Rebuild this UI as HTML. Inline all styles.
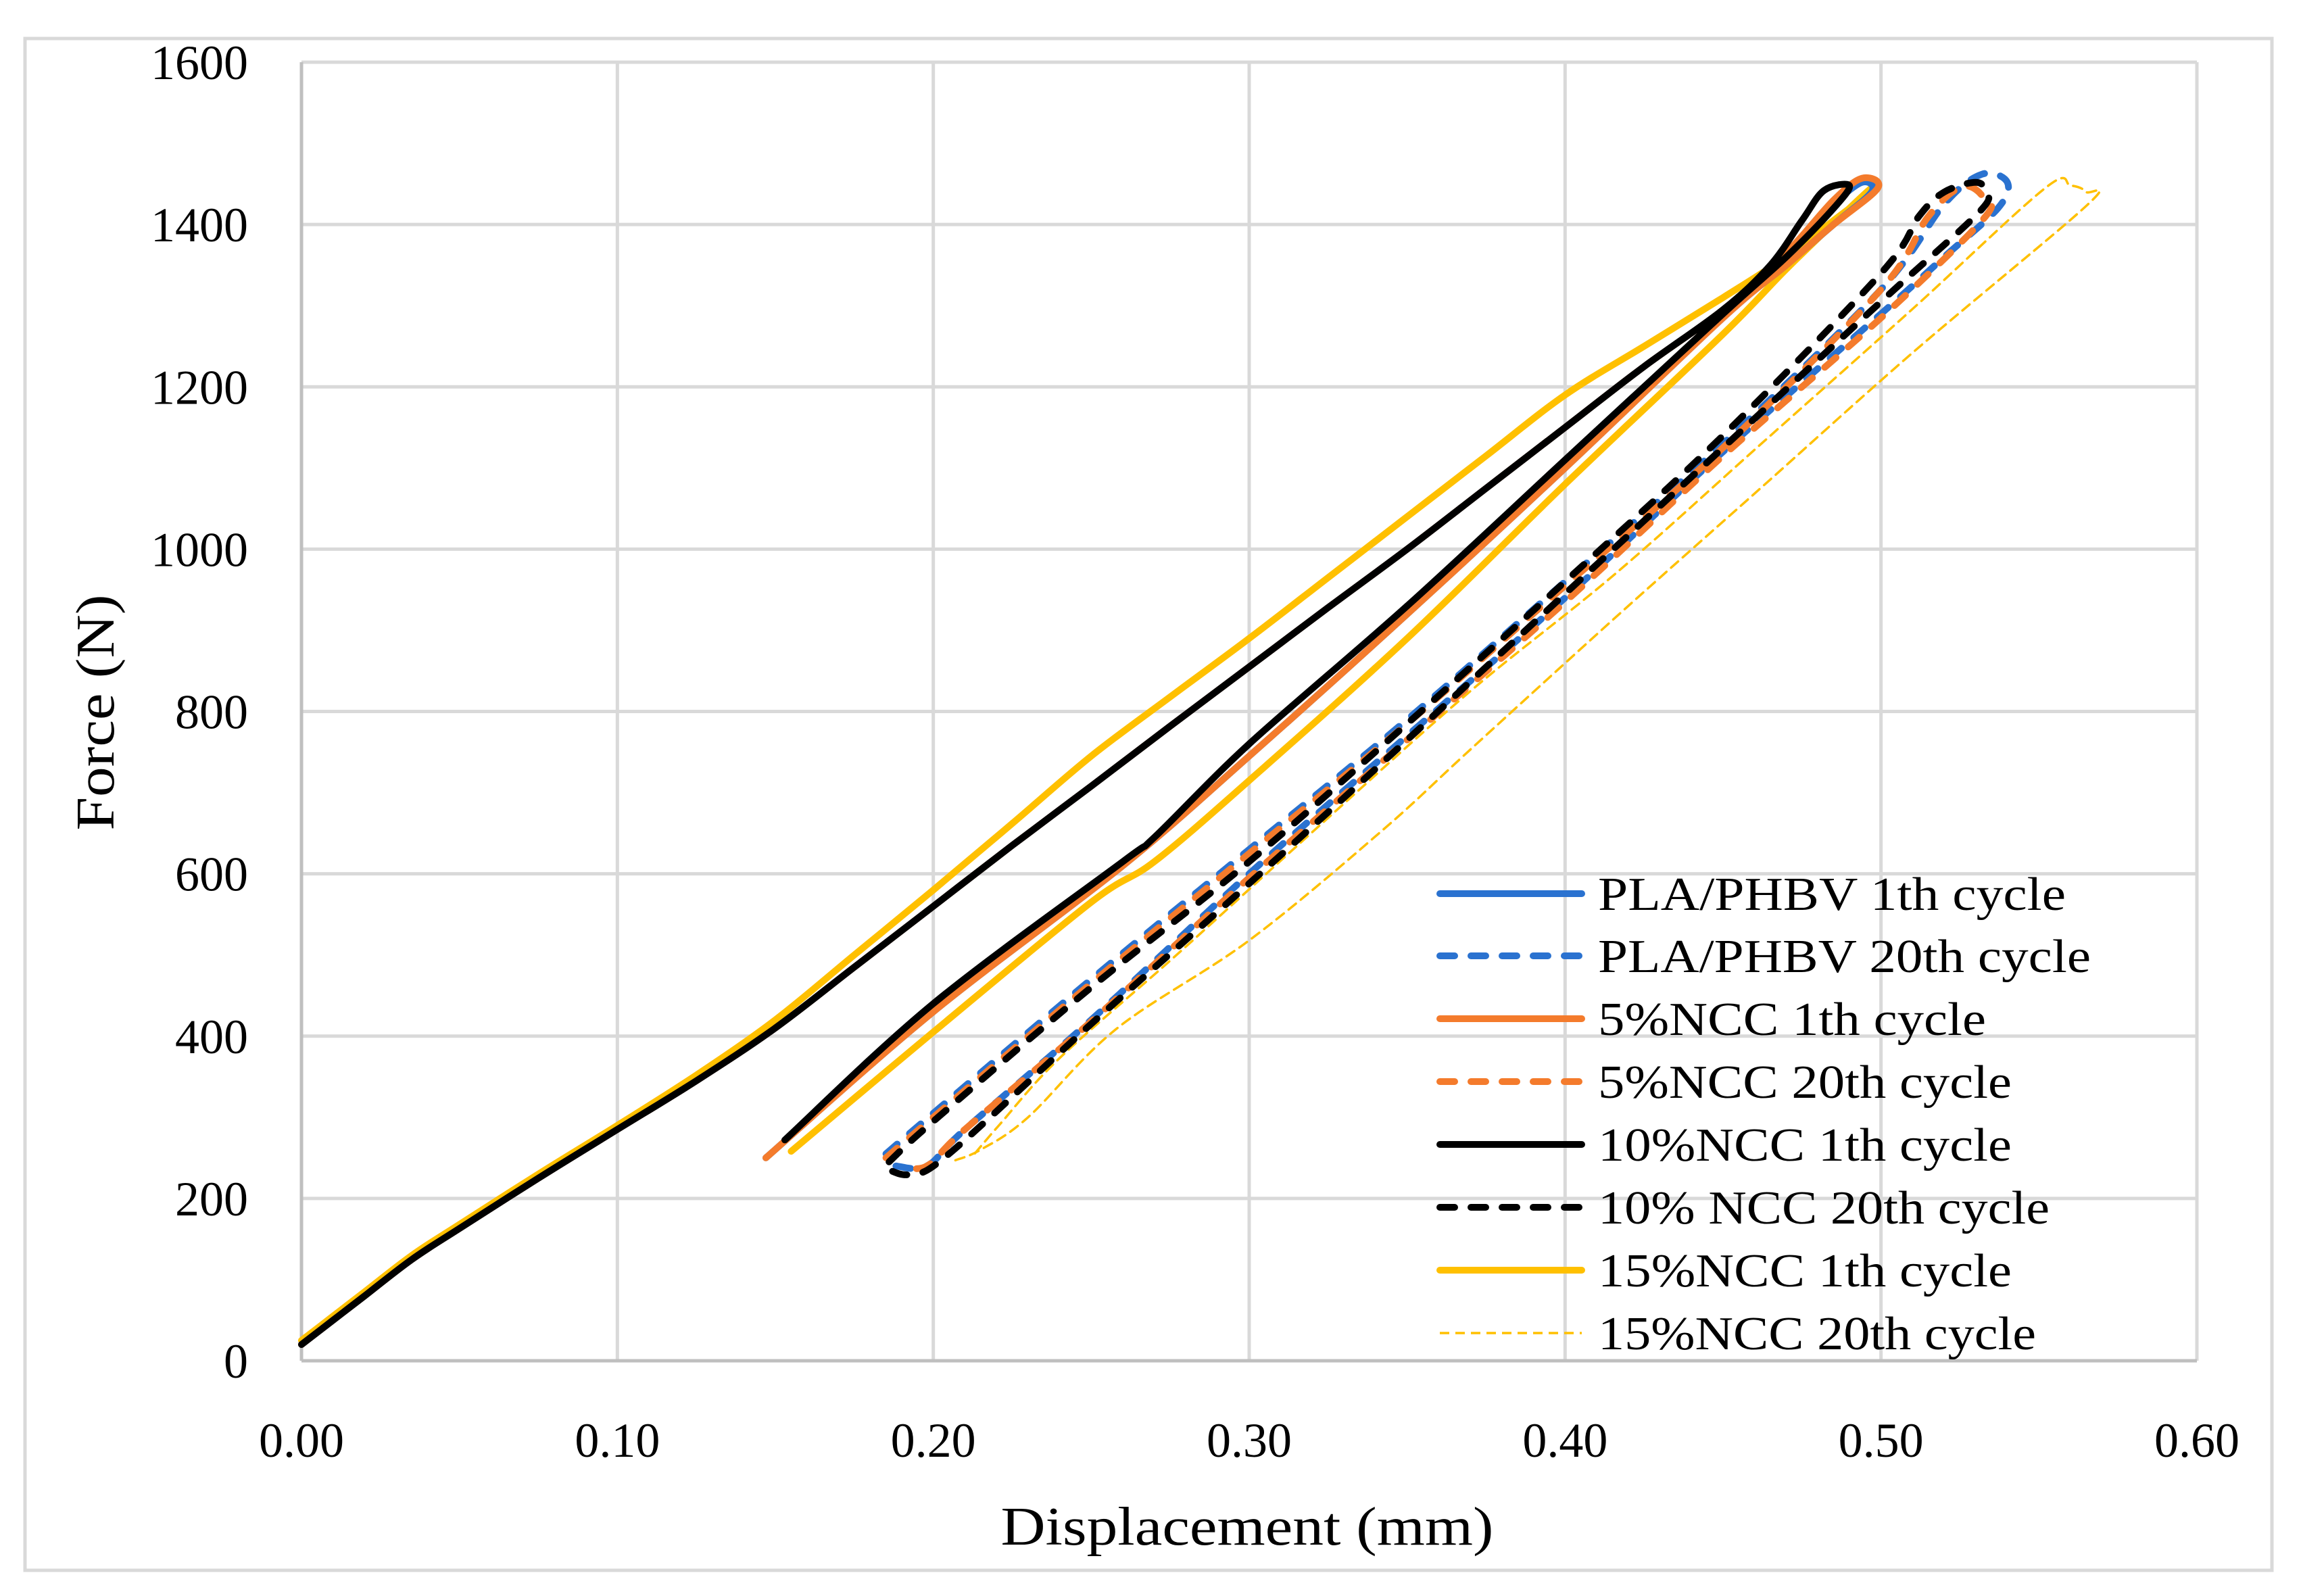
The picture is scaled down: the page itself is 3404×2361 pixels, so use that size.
<!DOCTYPE html>
<html><head><meta charset="utf-8">
<style>
html,body{margin:0;padding:0;background:#fff;}
svg{display:block;}
text{font-family:"Liberation Serif",serif;fill:#000;}
</style></head>
<body>
<svg id="chart" width="3404" height="2361" viewBox="0 0 3404 2361" xmlns="http://www.w3.org/2000/svg">
<rect x="37" y="57" width="3324" height="2266" fill="#fff" stroke="#d9d9d9" stroke-width="5"/>
<g id="grid"></g>
<g id="axes"></g>
<g id="series"></g>
<g id="legend"></g>
<text x="0" y="0" font-size="80" text-anchor="middle" transform="translate(168,1054) rotate(-90)" textLength="349" lengthAdjust="spacingAndGlyphs">Force (N)</text>
<text x="1845" y="2285" font-size="80" text-anchor="middle" textLength="729" lengthAdjust="spacingAndGlyphs">Displacement (mm)</text>
</svg>
<script>
const xTicks = [0, 0.1, 0.2, 0.3, 0.4, 0.5, 0.6];
const xTickLabels = ["0.00","0.10","0.20","0.30","0.40","0.50","0.60"];
const yTicks = [0, 200, 400, 600, 800, 1000, 1200, 1400, 1600];
const yTickLabels = ["0","200","400","600","800","1000","1200","1400","1600"];
const seriesNames = ["PLA/PHBV 1th cycle","PLA/PHBV 20th cycle","5%NCC 1th cycle","5%NCC 20th cycle","10%NCC 1th cycle","10% NCC 20th cycle","15%NCC 1th cycle","15%NCC 20th cycle"];

const loadingCommon = [[0,20],[0.01,50],[0.02,80],[0.035,125],[0.05,163],[0.075,225],[0.10,285],[0.125,345],[0.15,410],[0.175,485],[0.20,560],[0.225,635],[0.25,708],[0.275,782],[0.30,855],[0.325,928],[0.35,1000],[0.375,1075],[0.40,1150],[0.425,1225],[0.45,1295]];
const pla1 = loadingCommon.concat([[0.47,1365],[0.485,1425],[0.494,1452],[0.497,1440],[0.485,1400],[0.47,1350],[0.45,1285],[0.40,1100],[0.35,920],[0.30,745],[0.26,610],[0.20,430],[0.147,250]]);
const pla20 = [[0.185,255],[0.20,305],[0.25,470],[0.30,630],[0.35,790],[0.40,960],[0.45,1130],[0.50,1320],[0.52,1425],[0.532,1462],[0.54,1452],[0.537,1420],[0.52,1360],[0.50,1290],[0.45,1120],[0.40,940],[0.35,770],[0.30,600],[0.25,420],[0.21,285],[0.198,240],[0.188,240]];
const ncc5_1 = loadingCommon.concat([[0.47,1365],[0.485,1430],[0.494,1457],[0.499,1445],[0.485,1400],[0.47,1350],[0.45,1285],[0.40,1100],[0.35,920],[0.30,745],[0.26,610],[0.20,430],[0.147,250]]);
const ncc5_20 = [[0.185,250],[0.20,300],[0.25,465],[0.30,625],[0.35,785],[0.40,955],[0.45,1125],[0.50,1320],[0.515,1410],[0.526,1447],[0.533,1430],[0.532,1405],[0.50,1285],[0.45,1115],[0.40,935],[0.35,765],[0.30,595],[0.25,418],[0.21,285],[0.198,240],[0.19,240]];
const ncc10_1 = loadingCommon.concat([[0.465,1350],[0.475,1405],[0.482,1442],[0.49,1448],[0.485,1420],[0.47,1360],[0.45,1290],[0.40,1110],[0.35,930],[0.30,760],[0.27,645],[0.26,615],[0.20,440],[0.153,272]]);
const ncc10_20 = [[0.186,245],[0.20,295],[0.25,460],[0.30,615],[0.35,785],[0.40,960],[0.45,1140],[0.50,1340],[0.512,1410],[0.52,1440],[0.53,1452],[0.533,1440],[0.531,1415],[0.50,1305],[0.45,1125],[0.40,945],[0.35,765],[0.30,588],[0.25,415],[0.205,255],[0.193,230],[0.186,235]];
const ncc15_1 = [[0,25],[0.01,55],[0.02,85],[0.035,130],[0.05,168],[0.075,230],[0.10,290],[0.125,352],[0.15,420],[0.175,500],[0.20,580],[0.225,662],[0.25,745],[0.275,818],[0.30,890],[0.325,965],[0.35,1040],[0.375,1115],[0.40,1190],[0.425,1250],[0.45,1310],[0.47,1360],[0.485,1405],[0.495,1435],[0.497,1445],[0.49,1420],[0.47,1345],[0.45,1265],[0.40,1080],[0.35,890],[0.30,715],[0.27,615],[0.25,565],[0.20,405],[0.155,258]];
const ncc15_20 = [[0.207,247],[0.215,260],[0.23,300],[0.258,409],[0.30,518],[0.342,653],[0.37,753],[0.416,916],[0.463,1079],[0.51,1242],[0.565,1423],[0.565,1440],[0.56,1448],[0.552,1445],[0.51,1296],[0.463,1133],[0.416,970],[0.37,825],[0.323,662],[0.277,500],[0.24,373],[0.221,291],[0.212,250]];

const NS = "http://www.w3.org/2000/svg";
const X0 = 446, X1 = 3250, Y0 = 2013, Y1 = 92;
function xs(v){ return X0 + (v - 0) / 0.6 * (X1 - X0); }
function ys(v){ return Y0 - (v - 0) / 1600 * (Y0 - Y1); }
function mk(tag, attrs, parent){ const e = document.createElementNS(NS, tag); for (const k in attrs) e.setAttribute(k, attrs[k]); parent.appendChild(e); return e; }
function smoothPath(pts){
  const p = pts.map(q => [xs(q[0]), ys(q[1])]);
  let d = 'M' + p[0][0].toFixed(1) + ',' + p[0][1].toFixed(1);
  for (let i = 0; i < p.length - 1; i++) {
    const p0 = p[i - 1] || p[i], p1 = p[i], p2 = p[i + 1], p3 = p[i + 2] || p2;
    const c1x = p1[0] + (p2[0] - p0[0]) / 6, c1y = p1[1] + (p2[1] - p0[1]) / 6;
    const c2x = p2[0] - (p3[0] - p1[0]) / 6, c2y = p2[1] - (p3[1] - p1[1]) / 6;
    d += ' C' + c1x.toFixed(1) + ',' + c1y.toFixed(1) + ' ' + c2x.toFixed(1) + ',' + c2y.toFixed(1) + ' ' + p2[0].toFixed(1) + ',' + p2[1].toFixed(1);
  }
  return d;
}

const grid = document.getElementById('grid');
const axes = document.getElementById('axes');
yTicks.forEach((t, i) => {
  const l = mk('line', {x1: X0, x2: X1, y1: ys(t), y2: ys(t), stroke: '#d9d9d9', 'stroke-width': 5}, grid);
  
  
  const tx = mk('text', {x: 367, y: ys(t) + 25, 'font-size': 72, 'text-anchor': 'end'}, axes);
  tx.textContent = yTickLabels[i];
  
  
});
xTicks.forEach((t, i) => {
  const l = mk('line', {x1: xs(t), x2: xs(t), y1: Y1, y2: Y0, stroke: '#d9d9d9', 'stroke-width': 5}, grid);
  
  
  const tx = mk('text', {x: xs(t), y: 2155, 'font-size': 72, 'text-anchor': 'middle'}, axes);
  tx.textContent = xTickLabels[i];
  
  
});
const ax = mk('line', {x1: X0, x2: X1, y1: Y0, y2: Y0, stroke: '#bfbfbf', 'stroke-width': 5}, axes);


const ay = mk('line', {x1: X0, x2: X0, y1: Y1, y2: Y0, stroke: '#bfbfbf', 'stroke-width': 5}, axes);



const BLUE = '#2A72D0', ORANGE = '#F47B2C', BLACK = '#000', YELLOW = '#FFC000';
const styles = [
  {c: BLUE, w: 10, d: null},
  {c: BLUE, w: 10, d: '22 24'},
  {c: ORANGE, w: 10, d: null},
  {c: ORANGE, w: 10, d: '22 24'},
  {c: BLACK, w: 10, d: null},
  {c: BLACK, w: 10, d: '22 24'},
  {c: YELLOW, w: 10, d: null},
  {c: YELLOW, w: 3.5, d: '14 9'}
];
const data = [pla1, pla20, ncc5_1, ncc5_20, ncc10_1, ncc10_20, ncc15_1, ncc15_20];
const names = ['series-pla-phbv-1th','series-pla-phbv-20th','series-5ncc-1th','series-5ncc-20th','series-10ncc-1th','series-10ncc-20th','series-15ncc-1th','series-15ncc-20th'];
const order = [7, 6, 0, 2, 4, 1, 3, 5];
const sg = document.getElementById('series');
order.forEach(i => {
  const s = styles[i];
  const attrs = {d: smoothPath(data[i]), fill: 'none', stroke: s.c, 'stroke-width': s.w, 'stroke-linejoin': 'round', 'stroke-linecap': 'round'};
  if (s.d) attrs['stroke-dasharray'] = s.d;
  const pl = mk('path', attrs, sg);
  
  
});

const lg = document.getElementById('legend');
const rowY = [1322, 1414, 1507, 1600, 1693, 1786, 1879, 1972];
const textW = [692, 729, 574, 612, 612, 668, 612, 648];
seriesNames.forEach((n, i) => {
  const s = styles[i];
  const a = {x1: 2130, x2: 2340, y1: rowY[i], y2: rowY[i], stroke: s.c, 'stroke-width': s.w, 'stroke-linecap': s.w > 5 ? 'round' : 'butt'};
  if (s.d) a['stroke-dasharray'] = s.d;
  const l = mk('line', a, lg);
  
  
  const t = mk('text', {x: 2364, y: rowY[i] + 24, 'font-size': 70, textLength: textW[i], lengthAdjust: 'spacingAndGlyphs'}, lg);
  t.textContent = n;
  
  
});
</script>
</body></html>
